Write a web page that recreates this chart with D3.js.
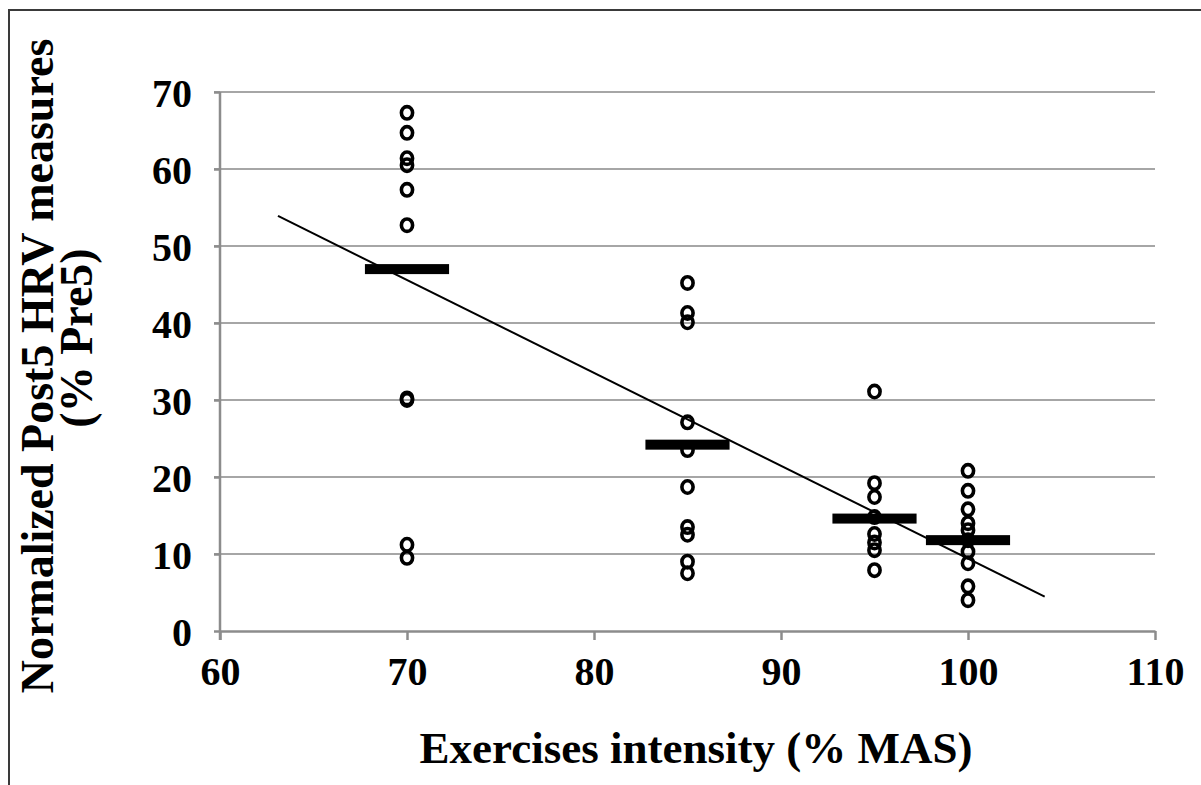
<!DOCTYPE html>
<html>
<head>
<meta charset="utf-8">
<script src="https://cdn.jsdelivr.net/npm/d3@7"></script>
<style>
  body {margin: 0; background: white}
  text {font-family: "Liberation Serif", "Times New Roman", serif; font-weight: bold; fill: black}
</style>
</head>
<body>
<div id="canvas"></div>
<script>
// Data
var intensity = [70, 85, 95, 100]
var values_70 = [67.3, 64.7, 61.4, 60.5, 57.3, 52.7, 30.2, 30.0, 11.2, 9.5]
var values_85 = [45.2, 41.3, 40.1, 27.1, 23.5, 18.7, 13.5, 12.5, 9.0, 7.5]
var values_95 = [31.1, 19.2, 17.4, 14.8, 12.6, 11.5, 10.5, 7.9]
var values_100 = [20.8, 18.2, 15.8, 14.0, 13.1, 11.8, 10.3, 8.8, 5.8, 4.0]
var group_means = [47.0, 24.2, 14.6, 11.8]
var x_ticks = [60, 70, 80, 90, 100, 110]
var y_ticks = [0, 10, 20, 30, 40, 50, 60, 70]
var trend_x = [63.1, 104.1]
var trend_slope = -1.206, trend_intercept = 130.0

// Display variables
var total_width = 1201, total_height = 785
var plot_left = 220, plot_right = 1155, plot_top = 92, plot_bottom = 631
var grid_colour = "#a6a6a6"
var axis_colour = "#8c8c8c"
var bar_half = 2.25

var svg = d3.select("#canvas").append("svg").attr("width", total_width).attr("height", total_height)

// Outer frame (only top and left edges are inside the picture)
svg.append("path")
    .attr("d", `M9,${total_height} L9,10 L${total_width},10`)
    .attr("fill", "none").attr("stroke", "#3a3a3a").attr("stroke-width", 2)

var x = d3.scaleLinear().domain([60, 110]).range([plot_left, plot_right])
var y = d3.scaleLinear().domain([0, 70]).range([plot_bottom, plot_top])

// Gridlines
svg.append("g").selectAll("line")
    .data(y_ticks.filter(d => d > 0))
    .enter().append("line")
    .attr("x1", plot_left - 6).attr("x2", plot_right)
    .attr("y1", d => y(d)).attr("y2", d => y(d))
    .attr("stroke", grid_colour).attr("stroke-width", 2)

// Axes
var x_axis = svg.append("g")
    .attr("transform", "translate(0," + plot_bottom + ")")
    .call(d3.axisBottom(x).tickValues(x_ticks).tickSize(9).tickSizeOuter(0).tickPadding(17))
var y_axis = svg.append("g")
    .attr("transform", "translate(" + plot_left + ",0)")
    .call(d3.axisLeft(y).tickValues(y_ticks).tickSize(6).tickSizeOuter(0).tickPadding(22))
;[x_axis, y_axis].forEach(a => {
    a.select(".domain").attr("stroke", axis_colour).attr("stroke-width", 2.5)
    a.selectAll(".tick line").attr("stroke", axis_colour).attr("stroke-width", 2.5)
    a.selectAll(".tick text").style("font-family", "Liberation Serif").style("font-weight", "bold")
        .style("font-size", "40px").attr("fill", "black")
})
y_axis.select(".domain").attr("d", `M0,${plot_top}V${plot_bottom + 9}`)
y_axis.selectAll(".tick text").attr("dy", "0.35em")
x_axis.selectAll(".tick text").attr("dy", "0.71em")

// Trend line
svg.append("line")
    .attr("x1", x(trend_x[0])).attr("y1", y(trend_intercept + trend_slope * trend_x[0]))
    .attr("x2", x(trend_x[1])).attr("y2", y(trend_intercept + trend_slope * trend_x[1]))
    .attr("stroke", "black").attr("stroke-width", 2)

// Mean bars
svg.append("g").selectAll("rect")
    .data(intensity)
    .enter().append("rect")
    .attr("x", d => x(d - bar_half))
    .attr("width", d => x(d + bar_half) - x(d - bar_half))
    .attr("y", (d, i) => y(group_means[i]) - 5)
    .attr("height", 10)
    .attr("fill", "black")

// Individual points
var all_values = [values_70, values_85, values_95, values_100]
var points = []
all_values.forEach((vals, i) => vals.forEach(v => points.push([intensity[i], v])))
svg.append("g").selectAll("ellipse")
    .data(points)
    .enter().append("ellipse")
    .attr("cx", d => x(d[0]))
    .attr("cy", d => y(d[1]))
    .attr("rx", 5.6)
    .attr("ry", 6.2)
    .attr("fill", "none")
    .attr("stroke", "black")
    .attr("stroke-width", 3.6)

// Axis titles
svg.append("text")
    .attr("x", 696).attr("y", 763)
    .attr("text-anchor", "middle")
    .style("font-size", "45px")
    .text("Exercises intensity (% MAS)")
svg.append("text")
    .attr("transform", "translate(53,366) rotate(-90)")
    .attr("text-anchor", "middle")
    .style("font-size", "46px")
    .text("Normalized Post5 HRV measures")
svg.append("text")
    .attr("transform", "translate(92,338) rotate(-90)")
    .attr("text-anchor", "middle")
    .style("font-size", "46px")
    .text("(% Pre5)")
</script>
</body>
</html>
